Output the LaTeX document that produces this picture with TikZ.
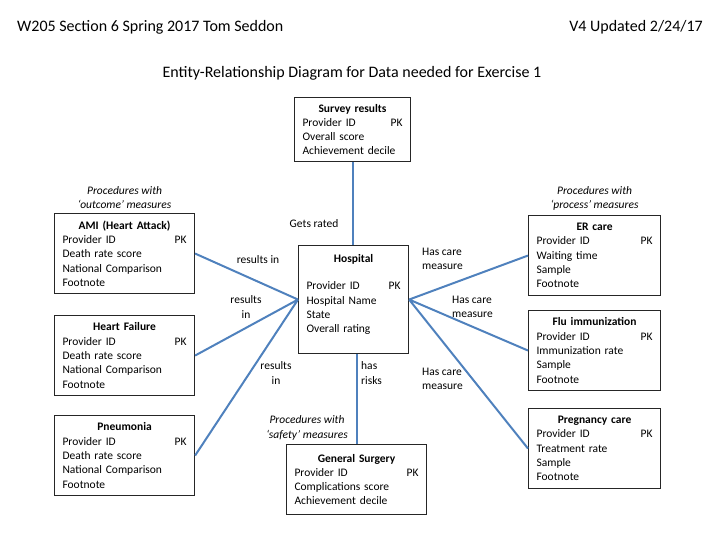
\documentclass[tikz,border=0pt]{standalone}
\usepackage{fontspec}
\setmainfont{Carlito}
\usepackage{xcolor}
\usepackage{tikz}
\usetikzlibrary{positioning}

\definecolor{linkblue}{RGB}{79,129,189}
\setlength{\parindent}{0pt}

% title line centred, attribute rows flush left
\newcommand{\entrows}[2]{\centering\textbf{#1}\par\raggedright #2}

\begin{document}
\begin{tikzpicture}[x=1pt,y=-1pt,
	entitybox/.style={rectangle,draw=black!85,line width=1.1pt,anchor=north west,
		inner xsep=8pt,inner ysep=0pt,font=\fontsize{11.5}{14.3}\selectfont},
	link/.style={draw=linkblue,line width=2pt},
	rel/.style={inner sep=0pt,align=center,font=\fontsize{11.5}{14.3}\selectfont},
	note/.style={rel,font=\fontsize{11.5}{14.3}\selectfont\itshape},
	heading/.style={inner sep=0pt,font=\fontsize{16}{19}\selectfont}]
					\useasboundingbox (0,0) rectangle (720,540);

					% Header and title
					\node[heading,anchor=west] (author) at (17,27) {W205 Section 6 Spring 2017 Tom Seddon};
					\node[heading,anchor=east] (version) at (703,27) {V4 Updated 2/24/17};
					\node[heading] (title) at (352,73) {Entity-Relationship Diagram for Data needed for Exercise 1};

					% Central entity (ID=hosp)
					\node[entitybox,text width=94pt,minimum height=108pt] (hosp) at (298,245)
					{\centering\textbf{Hospital}\par\vspace{13pt}\raggedright Provider ID\hfill PK\\Hospital Name\\State\\Overall rating\rule[-12pt]{0pt}{12pt}};

					\node[entitybox,text width=100pt,minimum height=64pt] (survey) at (294,97)
					{\entrows{Survey results}{Provider ID\hfill PK\\Overall score\\Achievement decile}};

					% Outcome measures on the left
					\node[entitybox,text width=124pt,minimum height=80pt] (ami) at (54,213)
					{\entrows{AMI (Heart Attack)}{Provider ID\hfill PK\\Death rate score\\National Comparison\\Footnote}};
					\node[entitybox,text width=124pt,minimum height=80pt] (hf) at (54,315)
					{\entrows{Heart Failure}{Provider ID\hfill PK\\Death rate score\\National Comparison\\Footnote}};
					\node[entitybox,text width=124pt,minimum height=80pt] (pneu) at (54,415)
					{\entrows{Pneumonia}{Provider ID\hfill PK\\Death rate score\\National Comparison\\Footnote}};
					\node[note,above=4pt of ami] (outcome) {Procedures with\\‘outcome’ measures};

					% Safety measures below
					\node[entitybox,text width=124pt,minimum height=70pt] (surg) at (286,444)
					{\entrows{General Surgery}{Provider ID\hfill PK\\Complications score\\Achievement decile}};
					\node[note] (safety) at (307,428) {Procedures with\\‘safety’ measures};

					% Process measures on the right
					\node[entitybox,text width=116pt,minimum height=80pt] (er) at (528,215)
					{\entrows{ER care}{Provider ID\hfill PK\\Waiting time\\Sample\\Footnote}};
					\node[entitybox,text width=116pt,minimum height=80pt] (flu) at (528,310)
					{\entrows{Flu immunization}{Provider ID\hfill PK\\Immunization rate\\Sample\\Footnote}};
					\node[entitybox,text width=116pt,minimum height=80pt] (preg) at (528,408)
					{\entrows{Pregnancy care}{Provider ID\hfill PK\\Treatment rate\\Sample\\Footnote}};
					\node[note,above=4pt of er] (process) {Procedures with\\‘process’ measures};

					% Relationship labels
					\node[rel] (rated) at (314,224) {Gets rated};
					\node[rel] (resA) at (258,260) {results in};
					\node[rel] (resB) at (246,307) {results\\in};
					\node[rel] (resC) at (276,373) {results\\in};
					\node[rel,align=left,anchor=west] (risks) at (361,373) {has\\risks};
					\node[rel,align=left,anchor=west] (careA) at (422,259) {Has care\\measure};
					\node[rel,align=left,anchor=west] (careB) at (452,307) {Has care\\measure};
					\node[rel,align=left,anchor=west] (careC) at (422,379) {Has care\\measure};

					% Draw the edges from hosp to each entity
					\path[link] (survey.south) -- (survey.south |- hosp.north);
					\path[link] (hosp.west) -- (ami.east)
					(hosp.west) -- (hf.east)
					(hosp.west) -- (pneu.east);
					\path[link] (surg.north |- hosp.south) -- (surg.north);
					\path[link] (hosp.east) -- (er.west)
					(hosp.east) -- (flu.west)
					(hosp.east) -- (preg.west);
				\end{tikzpicture}
\end{document}
